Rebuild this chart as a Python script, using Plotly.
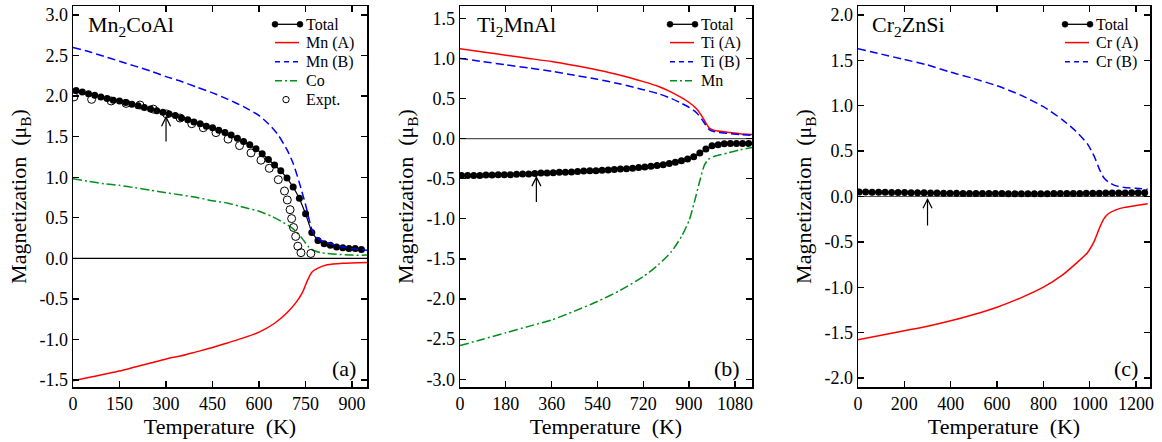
import plotly.graph_objects as go

# ---------------- Data ----------------
# Panel (a) Mn2CoAl
a_total_T = [10, 30, 50, 70, 90, 110, 130, 150, 170, 190, 210, 230, 250, 270, 290, 310, 330, 350, 370, 390,
             410, 430, 450, 470, 490, 510, 530, 550, 570, 590, 610, 630, 650, 670, 690, 710, 730, 750, 770,
             790, 810, 830, 850, 870, 890, 910, 930]
a_total = [2.07, 2.05, 2.03, 2.01, 1.99, 1.97, 1.95, 1.94, 1.92, 1.90, 1.88, 1.86, 1.84, 1.82, 1.80, 1.78,
           1.76, 1.73, 1.71, 1.68, 1.66, 1.63, 1.61, 1.58, 1.55, 1.52, 1.48, 1.44, 1.40, 1.35, 1.29, 1.22,
           1.15, 1.08, 0.99, 0.88, 0.74, 0.55, 0.32, 0.22, 0.18, 0.16, 0.14, 0.13, 0.12, 0.12, 0.11]
a_mnA_T = [0, 50, 100, 150, 200, 250, 300, 350, 400, 450, 500, 550, 600, 650, 690, 720, 740, 755, 770, 790,
           820, 870, 950]
a_mnA = [-1.51, -1.47, -1.43, -1.39, -1.34, -1.29, -1.24, -1.20, -1.15, -1.10, -1.04, -0.98, -0.91, -0.80,
         -0.67, -0.54, -0.42, -0.28, -0.17, -0.12, -0.08, -0.06, -0.05]
a_mnB_T = [0, 50, 100, 150, 200, 250, 300, 350, 400, 450, 500, 550, 600, 630, 660, 690, 710, 730, 750, 760,
           770, 780, 800, 830, 860, 900, 950]
a_mnB = [2.60, 2.55, 2.49, 2.43, 2.37, 2.31, 2.24, 2.18, 2.11, 2.04, 1.96, 1.87, 1.76, 1.66, 1.53, 1.34,
         1.17, 0.93, 0.66, 0.50, 0.36, 0.28, 0.22, 0.18, 0.15, 0.12, 0.10]
a_co_T = [0, 50, 100, 150, 200, 250, 300, 350, 400, 450, 500, 550, 600, 640, 670, 700, 720, 740, 760, 780,
          800, 850, 900, 950]
a_co = [0.98, 0.95, 0.92, 0.90, 0.87, 0.84, 0.81, 0.78, 0.75, 0.71, 0.68, 0.63, 0.58, 0.52, 0.46, 0.39,
        0.33, 0.24, 0.14, 0.09, 0.07, 0.05, 0.04, 0.04]
a_exp_T = [3, 60, 123, 171, 216, 259, 302, 345, 383, 420, 461, 500, 537, 574, 606, 633, 662, 682, 691, 700,
           705, 711, 718, 725, 735, 767]
a_exp = [1.99, 1.96, 1.94, 1.91, 1.89, 1.84, 1.78, 1.73, 1.66, 1.61, 1.55, 1.47, 1.39, 1.30, 1.21, 1.11,
         0.97, 0.83, 0.72, 0.60, 0.49, 0.38, 0.27, 0.15, 0.07, 0.06]

# Panel (b) Ti2MnAl
b_total_T = [6, 30, 54, 78, 102, 126, 150, 174, 198, 222, 246, 270, 294, 318, 342, 366, 390, 414, 438, 462,
             486, 510, 534, 558, 582, 606, 630, 654, 678, 702, 726, 750, 774, 798, 822, 846, 870, 894, 918,
             942, 966, 990, 1014, 1038, 1062, 1086, 1110, 1134]
b_total = [-0.46, -0.46, -0.46, -0.46, -0.455, -0.455, -0.45, -0.45, -0.45, -0.445, -0.44, -0.44, -0.435,
           -0.43, -0.43, -0.425, -0.42, -0.42, -0.415, -0.41, -0.405, -0.40, -0.40, -0.395, -0.39, -0.385,
           -0.38, -0.375, -0.37, -0.36, -0.355, -0.345, -0.335, -0.325, -0.31, -0.295, -0.275, -0.255,
           -0.225, -0.18, -0.13, -0.09, -0.075, -0.065, -0.06, -0.06, -0.06, -0.06]
b_tiA_T = [0, 90, 180, 270, 360, 450, 540, 630, 720, 780, 830, 870, 900, 930, 950, 965, 980, 1000, 1050,
           1100, 1150]
b_tiA = [1.12, 1.08, 1.04, 1.00, 0.96, 0.91, 0.855, 0.79, 0.71, 0.65, 0.58, 0.51, 0.45, 0.37, 0.28, 0.20,
         0.13, 0.10, 0.08, 0.06, 0.05]
b_tiB_T = [0, 90, 180, 270, 360, 450, 540, 630, 720, 780, 830, 870, 900, 930, 950, 965, 980, 1000, 1050,
           1100, 1150]
b_tiB = [1.00, 0.96, 0.92, 0.88, 0.84, 0.79, 0.74, 0.68, 0.61, 0.56, 0.50, 0.44, 0.39, 0.32, 0.24, 0.17,
         0.11, 0.085, 0.065, 0.05, 0.04]
b_mn_T = [0, 90, 180, 270, 360, 450, 540, 630, 720, 780, 830, 870, 900, 920, 940, 960, 975, 1000, 1050,
          1100, 1150]
b_mn = [-2.58, -2.50, -2.42, -2.34, -2.26, -2.15, -2.03, -1.89, -1.72, -1.57, -1.41, -1.22, -1.02, -0.80,
        -0.55, -0.33, -0.26, -0.22, -0.18, -0.14, -0.11]

# Panel (c) Cr2ZnSi
c_total_T = [5, 33, 61, 89, 117, 145, 173, 201, 229, 257, 285, 313, 341, 369, 397, 425, 453, 481, 509, 537,
             565, 593, 621, 649, 677, 705, 733, 761, 789, 817, 845, 873, 901, 929, 957, 985, 1013, 1041,
             1069, 1097, 1125, 1153, 1181, 1209, 1237]
c_total = [0.050, 0.049, 0.048, 0.047, 0.046, 0.045, 0.044, 0.043, 0.042, 0.041, 0.040, 0.039, 0.038,
           0.037, 0.036, 0.035, 0.034, 0.034, 0.033, 0.033, 0.032, 0.032, 0.032, 0.031, 0.031, 0.031,
           0.031, 0.031, 0.031, 0.031, 0.032, 0.032, 0.032, 0.033, 0.034, 0.035, 0.036, 0.037, 0.038,
           0.038, 0.039, 0.039, 0.040, 0.040, 0.040]
c_crA_T = [0, 100, 200, 300, 400, 500, 600, 700, 800, 880, 940, 990, 1020, 1040, 1060, 1080, 1110, 1150,
           1200, 1250]
c_crA = [-1.58, -1.53, -1.48, -1.43, -1.37, -1.30, -1.22, -1.12, -1.00, -0.87, -0.74, -0.62, -0.49, -0.36,
         -0.25, -0.19, -0.15, -0.12, -0.10, -0.08]
c_crB_T = [0, 100, 200, 300, 400, 500, 600, 700, 800, 880, 940, 990, 1020, 1040, 1060, 1080, 1110, 1150,
           1200, 1250]
c_crB = [1.63, 1.57, 1.51, 1.45, 1.37, 1.30, 1.22, 1.12, 0.99, 0.85, 0.72, 0.58, 0.44, 0.31, 0.21, 0.16,
         0.12, 0.10, 0.09, 0.08]

# Legend labels
a_names = ["Total", "Mn (A)", "Mn (B)", "Co", "Expt."]
b_names = ["Total", "Ti (A)", "Ti (B)", "Mn"]
c_names = ["Total", "Cr (A)", "Cr (B)"]
titles = ["Mn<sub>2</sub>CoAl", "Ti<sub>2</sub>MnAl", "Cr<sub>2</sub>ZnSi"]
panel_labels = ["(a)", "(b)", "(c)"]

# Tick labels
a_xticks = [0, 150, 300, 450, 600, 750, 900]
a_yticks = [3.0, 2.5, 2.0, 1.5, 1.0, 0.5, 0.0, -0.5, -1.0, -1.5]
a_ytext = ["3.0", "2.5", "2.0", "1.5", "1.0", "0.5", "0.0", "-0.5", "-1.0", "-1.5"]
b_xticks = [0, 180, 360, 540, 720, 900, 1080]
b_yticks = [1.5, 1.0, 0.5, 0.0, -0.5, -1.0, -1.5, -2.0, -2.5, -3.0]
b_ytext = ["1.5", "1.0", "0.5", "0.0", "-0.5", "-1.0", "-1.5", "-2.0", "-2.5", "-3.0"]
c_xticks = [0, 200, 400, 600, 800, 1000, 1200]
c_yticks = [2.0, 1.5, 1.0, 0.5, 0.0, -0.5, -1.0, -1.5, -2.0]
c_ytext = ["2.0", "1.5", "1.0", "0.5", "0.0", "-0.5", "-1.0", "-1.5", "-2.0"]

# ---------------- Figure ----------------
W, H = 1162, 442
FONT = "Liberation Serif, Times New Roman, serif"
RED, BLUE, GREEN = "#ff0000", "#0000ff", "#00901a"
DASH = "8px,4px"
DASHDOT = "9px,3px,2px,3px"
LEG_DASH = "5px,4px"
LEG_DASHDOT = "7px,3px,2px,3px"

def px_x(p):
    return p / W

def px_y(p):
    return 1 - p / H

fig = go.Figure()

def add_line(x, y, color, dash, xa, ya):
    fig.add_trace(go.Scatter(x=x, y=y, mode="lines", showlegend=False, hoverinfo="skip",
                             line=dict(color=color, width=1.5, dash=dash, shape="spline", smoothing=0.6),
                             xaxis=xa, yaxis=ya))

def add_total(x, y, xa, ya):
    fig.add_trace(go.Scatter(x=x, y=y, mode="lines+markers", showlegend=False, hoverinfo="skip",
                             line=dict(color="black", width=1.2),
                             marker=dict(color="black", size=7, symbol="circle"),
                             xaxis=xa, yaxis=ya))

# Panel a
add_total(a_total_T, a_total, "x", "y")
add_line(a_mnA_T, a_mnA, RED, "solid", "x", "y")
add_line(a_mnB_T, a_mnB, BLUE, DASH, "x", "y")
add_line(a_co_T, a_co, GREEN, DASHDOT, "x", "y")
fig.add_trace(go.Scatter(x=a_exp_T, y=a_exp, mode="markers", showlegend=False, hoverinfo="skip",
                         marker=dict(symbol="circle-open", size=8, color="black", line=dict(width=1)),
                         xaxis="x", yaxis="y"))
# Panel b
add_total(b_total_T, b_total, "x2", "y2")
add_line(b_tiA_T, b_tiA, RED, "solid", "x2", "y2")
add_line(b_tiB_T, b_tiB, BLUE, DASH, "x2", "y2")
add_line(b_mn_T, b_mn, GREEN, DASHDOT, "x2", "y2")
# Panel c
add_total(c_total_T, c_total, "x3", "y3")
add_line(c_crA_T, c_crA, RED, "solid", "x3", "y3")
add_line(c_crB_T, c_crB, BLUE, DASH, "x3", "y3")

ydom = [px_y(387), px_y(6)]
panels = [
    ("", [73, 367], [0, 948], a_xticks, [-1.586, 3.111], a_yticks, a_ytext),
    ("2", [460, 752], [0, 1147], b_xticks, [-3.096, 1.653], b_yticks, b_ytext),
    ("3", [858, 1150], [0, 1260], c_xticks, [-2.10, 2.10], c_yticks, c_ytext),
]
axis_common = dict(showline=True, linecolor="black", linewidth=1.5, mirror="allticks", ticks="inside",
                   ticklen=6, tickwidth=1.3, tickcolor="black", showgrid=False, zeroline=False,
                   automargin=False, fixedrange=True,
                   tickfont=dict(family=FONT, size=18, color="black"),
                   title_font=dict(family=FONT, size=22, color="black"))
for suf, xd, xr, xt, yr, yt, ytt in panels:
    fig.layout["xaxis" + suf] = dict(domain=[px_x(xd[0]), px_x(xd[1])], range=xr, tickvals=xt,
                                     anchor="y" + suf, title=dict(text="Temperature\u00a0\u00a0(K)", standoff=4),
                                     **axis_common)
    fig.layout["yaxis" + suf] = dict(domain=ydom, range=yr, tickvals=yt, ticktext=ytt, anchor="x" + suf,
                                     title=dict(text="Magnetization\u00a0\u00a0(\u03bc<sub>B</sub>)", standoff=6),
                                     **axis_common)

# zero lines
for suf, col in [("", "black"), ("2", "#555555"), ("3", "#555555")]:
    fig.add_shape(type="line", xref=("x" + suf) + " domain", yref="y" + suf, x0=0, x1=1, y0=0, y1=0,
                  line=dict(color=col, width=1.2), layer="below")

# arrows at 300 K (open chevron heads)
arrows = [("x", "y", 300, 1.74, 1.44), ("x2", "y2", 300, -0.48, -0.79), ("x3", "y3", 300, -0.03, -0.32)]
for xa, ya, xv, tip, tail in arrows:
    fig.add_shape(type="line", xref=xa, yref=ya, x0=xv, x1=xv, y0=tail, y1=tip,
                  line=dict(color="black", width=1.2))
    fig.add_shape(type="path", xref=xa, yref=ya, xsizemode="pixel", ysizemode="pixel",
                  xanchor=xv, yanchor=tip, path="M-4.5,-9 L0,0 L4.5,-9",
                  line=dict(color="black", width=1.2))

# panel names and labels
for txt, xp in zip(titles, [86, 475, 870]):
    fig.add_annotation(x=px_x(xp), y=px_y(10), xref="paper", yref="paper", text=txt, showarrow=False,
                       xanchor="left", yanchor="top", font=dict(family=FONT, size=22, color="black"))
for txt, xp in zip(panel_labels, [358, 742, 1140]):
    fig.add_annotation(x=px_x(xp), y=px_y(368), xref="paper", yref="paper", text=txt, showarrow=False,
                       xanchor="right", yanchor="middle", font=dict(family=FONT, size=22, color="black"))

# hand-made legends (symbol x-start, symbol x-end, text x-start)
leg_rows = [24.3, 42.6, 61.7, 80.8, 99.6]
legends = [
    (a_names, ["total", RED, BLUE, GREEN, "expt"], 275, 300, 304),
    (b_names, ["total", RED, BLUE, GREEN], 670, 695, 699),
    (c_names, ["total", RED, BLUE], 1065, 1090, 1094),
]
for names, styles, s0, s1, t0 in legends:
    for name, sty, yrow in zip(names, styles, leg_rows):
        fig.add_annotation(x=px_x(t0), y=px_y(yrow), xref="paper", yref="paper", text=name, showarrow=False,
                           xanchor="left", yanchor="middle", font=dict(family=FONT, size=16, color="black"))
        if sty == "total":
            fig.add_shape(type="line", xref="paper", yref="paper", x0=px_x(s0), x1=px_x(s1),
                          y0=px_y(yrow), y1=px_y(yrow), line=dict(color="black", width=1.3))
            for sx in (s0, s1):
                fig.add_shape(type="circle", xref="paper", yref="paper", xsizemode="pixel", ysizemode="pixel",
                              xanchor=px_x(sx), yanchor=px_y(yrow), x0=-3, x1=3, y0=-3, y1=3,
                              fillcolor="black", line=dict(color="black", width=0.5))
        elif sty == "expt":
            cx = (s0 + s1) / 2 - 1.5
            fig.add_shape(type="circle", xref="paper", yref="paper", xsizemode="pixel", ysizemode="pixel",
                          xanchor=px_x(cx), yanchor=px_y(yrow), x0=-3.2, x1=3.2, y0=-3.2, y1=3.2,
                          line=dict(color="black", width=1))
        else:
            dash = {RED: "solid", BLUE: LEG_DASH, GREEN: LEG_DASHDOT}[sty]
            fig.add_shape(type="line", xref="paper", yref="paper", x0=px_x(s0), x1=px_x(s1 - 1),
                          y0=px_y(yrow), y1=px_y(yrow), line=dict(color=sty, width=1.5, dash=dash))

fig.update_layout(
    width=W, height=H, margin=dict(l=0, r=0, t=0, b=0, autoexpand=False),
    paper_bgcolor="white", plot_bgcolor="white", showlegend=False, hovermode=False,
)

fig.write_html("out.html", config={"displayModeBar": False, "staticPlot": True},
               post_script="document.body.style.margin='0px';document.body.style.overflow='hidden';")
